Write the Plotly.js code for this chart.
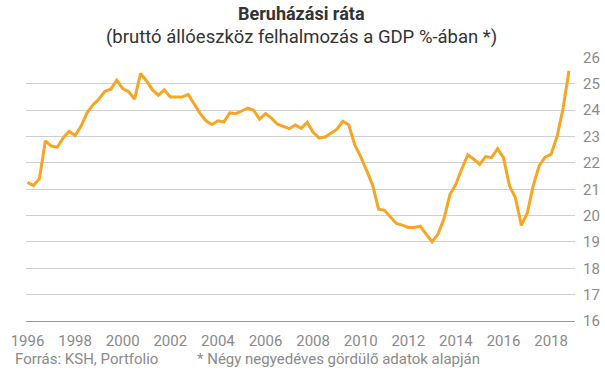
<!DOCTYPE html>
<html>
<head>
<meta charset="utf-8">
<script src="https://cdn.plot.ly/plotly-3.0.1.min.js"></script>
<style>html,body{margin:0;padding:0;background:#fff;}#chart{width:605px;height:378px;}</style>
</head>
<body>
<div id="chart"></div>
<script>
// Quarterly investment rate (% of GDP), 1996 Q1 – 2018 Q4
var startYear = 1996;
var rate = [
  21.26, 21.14, 21.4, 22.84,
  22.64, 22.6, 22.95, 23.2,
  23.04, 23.4, 23.9, 24.2,
  24.42, 24.72, 24.8, 25.14,
  24.82, 24.7, 24.42, 25.4,
  25.11, 24.77, 24.57, 24.77,
  24.5, 24.5, 24.5, 24.6,
  24.23, 23.88, 23.6, 23.46,
  23.6, 23.55, 23.9, 23.87,
  23.97, 24.08, 24.0, 23.66,
  23.87, 23.7, 23.47, 23.37,
  23.3, 23.44, 23.31, 23.54,
  23.16, 22.95, 22.98, 23.13,
  23.28, 23.58, 23.44, 22.68,
  22.24, 21.71, 21.16, 20.24,
  20.2, 19.95, 19.7, 19.64,
  19.55, 19.55, 19.6, 19.3,
  19.01, 19.3, 19.89, 20.8,
  21.2, 21.78, 22.31, 22.14,
  21.95, 22.24, 22.2, 22.54,
  22.2, 21.13, 20.68, 19.63,
  20.1, 21.15, 21.9, 22.22,
  22.33, 23.0, 24.05, 25.5
];
var tickYears = [1996, 1998, 2000, 2002, 2004, 2006, 2008, 2010, 2012, 2014, 2016, 2018];
var tickLabels = ["1996", "1998", "2000", "2002", "2004", "2006", "2008", "2010", "2012", "2014", "2016", "2018"];
var yTicks = [16, 17, 18, 19, 20, 21, 22, 23, 24, 25, 26];

var titleText = "<b>Beruházási ráta</b>";
var subtitleText = "(bruttó állóeszköz felhalmozás a GDP %-ában *)";
var sourceText = "Forrás: KSH, Portfolio";
var noteText = "* Négy negyedéves gördülő adatok alapján";

var quarters = rate.map(function (v, i) { return startYear + i / 4; });

var trace = {
  x: quarters,
  y: rate,
  type: "scatter",
  mode: "lines",
  line: { color: "#F7A624", width: 3 },
  hoverinfo: "skip"
};

var gray = "#8a8a8a";
var layout = {
  width: 605,
  height: 378,
  margin: { l: 26, r: 30, t: 57, b: 57 },
  paper_bgcolor: "#ffffff",
  plot_bgcolor: "#ffffff",
  showlegend: false,
  font: { family: "Roboto, sans-serif", color: gray, size: 15 },
  xaxis: {
    range: [1995.937, 2019.004],
    tickvals: tickYears,
    ticktext: tickLabels,
    showgrid: false,
    zeroline: false,
    showline: true,
    linecolor: "#999999",
    linewidth: 1,
    ticks: "",
    ticklabelstandoff: 6,
    tickfont: { family: "Roboto, sans-serif", size: 15, color: gray },
    fixedrange: true
  },
  yaxis: {
    range: [16, 26.02],
    side: "right",
    tickvals: yTicks,
    showgrid: true,
    gridcolor: "#d0d0d0",
    gridwidth: 1,
    zeroline: false,
    showline: false,
    ticks: "",
    ticklabelstandoff: 7,
    tickfont: { family: "Roboto, sans-serif", size: 15, color: gray },
    fixedrange: true
  },
  annotations: [
    { text: titleText, xref: "paper", yref: "paper", x: 0.5027, y: 1.164, xanchor: "center", yanchor: "middle", showarrow: false,
      font: { family: "Roboto, sans-serif", size: 18, color: "#333333" } },
    { text: subtitleText, xref: "paper", yref: "paper", x: 0.5027, y: 1.077, xanchor: "center", yanchor: "middle", showarrow: false,
      font: { family: "Roboto, sans-serif", size: 18.5, color: "#333333" } },
    { text: sourceText, xref: "paper", yref: "paper", x: -0.0242, y: -0.1428, xanchor: "left", yanchor: "middle", showarrow: false,
      font: { family: "Roboto, sans-serif", size: 15, color: gray } },
    { text: noteText, xref: "paper", yref: "paper", x: 0.3078, y: -0.1428, xanchor: "left", yanchor: "middle", showarrow: false,
      font: { family: "Roboto, sans-serif", size: 15, color: gray } }
  ]
};

Plotly.newPlot("chart", [trace], layout, { displayModeBar: false, staticPlot: true });
</script>
</body>
</html>
